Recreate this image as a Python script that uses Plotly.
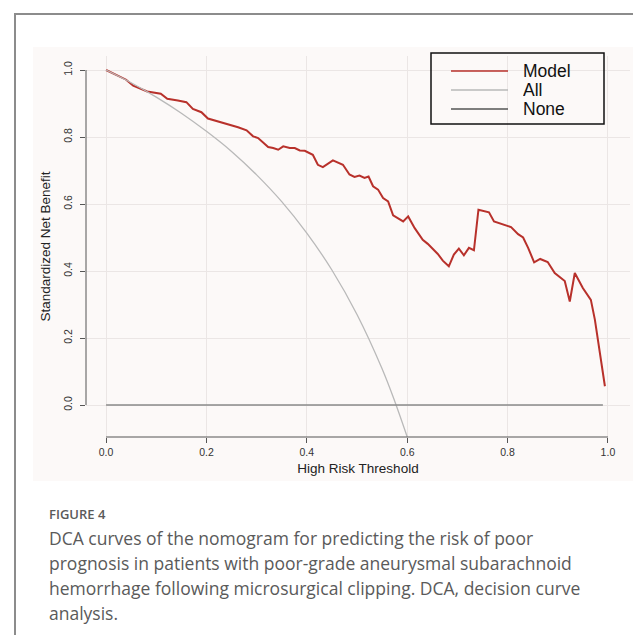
import plotly.graph_objects as go

# ---------------- data ----------------
model_x = [0.000, 0.040, 0.054, 0.082, 0.109, 0.122, 0.143, 0.160, 0.173, 0.190,
           0.203, 0.217, 0.236, 0.253, 0.263, 0.280, 0.293, 0.303, 0.323, 0.333,
           0.343, 0.353, 0.366, 0.376, 0.386, 0.396, 0.412, 0.422, 0.432, 0.452,
           0.472, 0.485, 0.495, 0.505, 0.515, 0.523, 0.532, 0.542, 0.552, 0.562,
           0.572, 0.592, 0.602, 0.615, 0.631, 0.641, 0.655, 0.661, 0.671, 0.683,
           0.693, 0.703, 0.713, 0.723, 0.733, 0.742, 0.763, 0.773, 0.807, 0.821,
           0.831, 0.841, 0.853, 0.865, 0.880, 0.894, 0.914, 0.924, 0.934, 0.950,
           0.966, 0.974, 0.994]
model_y = [1.000, 0.971, 0.953, 0.936, 0.929, 0.914, 0.909, 0.904, 0.884, 0.874,
           0.855, 0.849, 0.840, 0.835, 0.829, 0.820, 0.802, 0.797, 0.770, 0.767,
           0.762, 0.772, 0.767, 0.767, 0.760, 0.759, 0.747, 0.717, 0.710, 0.730,
           0.717, 0.688, 0.681, 0.685, 0.678, 0.682, 0.653, 0.643, 0.618, 0.608,
           0.566, 0.548, 0.563, 0.528, 0.493, 0.481, 0.459, 0.451, 0.431, 0.414,
           0.449, 0.467, 0.447, 0.469, 0.462, 0.583, 0.575, 0.548, 0.531, 0.510,
           0.500, 0.469, 0.426, 0.436, 0.427, 0.394, 0.370, 0.309, 0.394, 0.349,
           0.314, 0.255, 0.056]

all_x = [0.00, 0.05, 0.10, 0.15, 0.20, 0.25, 0.30, 0.35, 0.40, 0.45, 0.50, 0.55, 0.575, 0.60]
all_y = [1.000, 0.962, 0.919, 0.871, 0.817, 0.757, 0.687, 0.607, 0.513, 0.403, 0.270, 0.108, 0.012, -0.095]

none_x = [0.0, 0.99]
none_y = [0.0, 0.0]

tick_vals = [0.0, 0.2, 0.4, 0.6, 0.8, 1.0]
tick_text = ["0.0", "0.2", "0.4", "0.6", "0.8", "1.0"]

legend_names = ["Model", "All", "None"]
caption_title = "FIGURE 4"
caption_lines = [
    "DCA curves of the nomogram for predicting the risk of poor",
    "prognosis in patients with poor-grade aneurysmal subarachnoid",
    "hemorrhage following microsurgical clipping. DCA, decision curve",
    "analysis.",
]

# ---------------- styling ----------------
W, H = 641, 635
PL, PR, PT, PB = 78, 622, 48, 429   # plot area in pixels
RED = "#b8312b"
GRAY_ALL = "#b9b9b9"
GRAY_NONE = "#8a8a8a"
PINK = "#fcf9f8"
GRID = "#ebe6e5"
AXIS = "#555555"
FONT = "Liberation Sans, Arial, sans-serif"


def px_x(px):
    return (px - PL) / (PR - PL)


def px_y(py):
    return (PB - py) / (PB - PT)


fig = go.Figure()
fig.add_trace(go.Scatter(x=model_x, y=model_y, mode="lines", name=legend_names[0],
                         line=dict(color=RED, width=2), showlegend=False))
fig.add_trace(go.Scatter(x=all_x, y=all_y, mode="lines", name=legend_names[1],
                         line=dict(color=GRAY_ALL, width=1.3, shape="spline"), showlegend=False))
fig.add_trace(go.Scatter(x=none_x, y=none_y, mode="lines", name=legend_names[2],
                         line=dict(color=GRAY_NONE, width=1.5), showlegend=False))

shapes = []
# picture background (pinkish image area)
shapes.append(dict(type="rect", xref="paper", yref="paper", layer="below",
                   x0=px_x(25), x1=px_x(645), y0=px_y(473), y1=px_y(39),
                   fillcolor=PINK, line=dict(width=0)))
# page frame (left and top edges)
shapes.append(dict(type="line", xref="paper", yref="paper",
                   x0=px_x(7), x1=px_x(7), y0=px_y(6), y1=px_y(640),
                   line=dict(color="#8c8c8c", width=2)))
shapes.append(dict(type="line", xref="paper", yref="paper",
                   x0=px_x(6), x1=px_x(645), y0=px_y(6), y1=px_y(6),
                   line=dict(color="#8c8c8c", width=2)))
# R-style axis lines spanning only the tick range
shapes.append(dict(type="line", xref="x", yref="paper",
                   x0=tick_vals[0], x1=tick_vals[-1], y0=0, y1=0,
                   line=dict(color=AXIS, width=1)))
shapes.append(dict(type="line", xref="paper", yref="y",
                   x0=0, x1=0, y0=tick_vals[0], y1=tick_vals[-1],
                   line=dict(color=AXIS, width=1)))
# legend box
shapes.append(dict(type="rect", xref="paper", yref="paper",
                   x0=px_x(423), x1=px_x(596), y0=px_y(116), y1=px_y(45),
                   line=dict(color="#111111", width=1.5)))
legend_colors = [RED, GRAY_ALL, "#555555"]
legend_rows = [63, 82, 101]
annotations = []
for name, col, py in zip(legend_names, legend_colors, legend_rows):
    shapes.append(dict(type="line", xref="paper", yref="paper",
                       x0=px_x(443), x1=px_x(500), y0=px_y(py), y1=px_y(py),
                       line=dict(color=col, width=1.5)))
    annotations.append(dict(xref="paper", yref="paper", x=px_x(513), y=px_y(py),
                            text=name, showarrow=False, xanchor="left", yanchor="middle",
                            height=18, valign="middle",
                            font=dict(family=FONT, size=17.5, color="#111111")))

# caption
annotations.append(dict(xref="paper", yref="paper", x=px_x(39), y=px_y(506),
                        text=caption_title, showarrow=False, xanchor="left", yanchor="middle",
                        font=dict(family="Open Sans, sans-serif", size=13, color="#5a5a5a",
                                  weight=600)))
for i, line in enumerate(caption_lines):
    annotations.append(dict(xref="paper", yref="paper", x=px_x(39), y=px_y(530 + 25 * i),
                            text=line, showarrow=False, xanchor="left", yanchor="middle",
                            font=dict(family="Open Sans, sans-serif", size=17.5, color="#5a5a5a")))

fig.update_layout(
    width=W, height=H,
    margin=dict(l=PL, r=W - PR, t=PT, b=H - PB, pad=0),
    paper_bgcolor="white",
    plot_bgcolor=PINK,
    shapes=shapes,
    annotations=annotations,
    showlegend=False,
    xaxis=dict(range=[-0.04, 1.044], tickvals=tick_vals, ticktext=tick_text,
               showgrid=True, gridcolor=GRID, gridwidth=1, zeroline=False,
               showline=False, ticks="outside", ticklen=5, tickcolor=AXIS,
               tickfont=dict(family=FONT, size=10.5, color="#333333"),
               title=dict(text="High Risk Threshold", standoff=6,
                          font=dict(family=FONT, size=13.5, color="#222222"))),
    yaxis=dict(range=[-0.0955, 1.0418], tickvals=tick_vals, ticktext=tick_text,
               showgrid=True, gridcolor=GRID, gridwidth=1, zeroline=False,
               showline=False, ticks="outside", ticklen=5, tickcolor=AXIS,
               tickangle=-90, ticklabelstandoff=4,
               tickfont=dict(family=FONT, size=10.5, color="#333333"),
               title=dict(text="Standardized Net Benefit", standoff=8,
                          font=dict(family=FONT, size=13.5, color="#222222"))),
)

fig.write_html("out.html")
